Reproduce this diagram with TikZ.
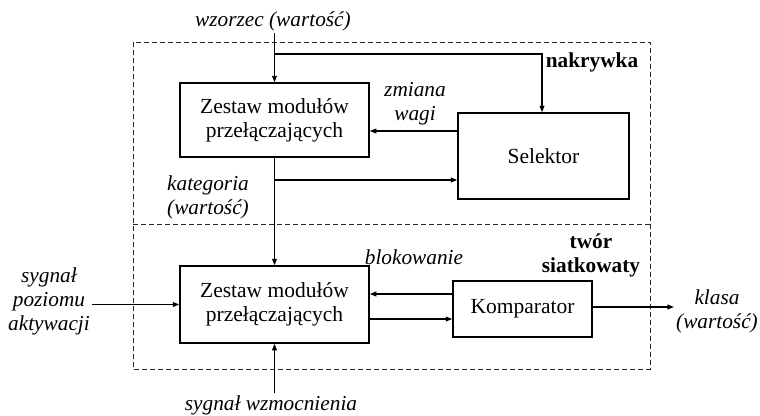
\documentclass[tikz,border=0pt]{standalone}
\usepackage{fontspec}
\setmainfont{Liberation Serif}
\usetikzlibrary{arrows.meta}
\begin{document}
\begin{tikzpicture}[x=1pt,y=-1pt,
  font=\fontsize{21.5}{24}\selectfont,
  block/.style={draw,line width=1.5pt,minimum width=#1,inner sep=0pt,align=center},
  lbl/.style={font=\fontsize{21.3}{24}\selectfont\itshape,align=center,inner sep=2pt},
  tag/.style={font=\fontsize{21.3}{24}\selectfont\bfseries,align=center,inner sep=1pt},
  frame/.style={line width=0.9pt,dash pattern=on 5pt off 3pt,draw=black!85},
  arr/.style={line width=1.25pt,-{Triangle[length=6.5pt,width=4.8pt]}},
  ln/.style={line width=1.25pt}]
\useasboundingbox (0,0) rectangle (760,415);

% dashed frames: upper part and lower part
\draw[frame] (133,42) rectangle (650,369);
\draw[frame] (133,224) -- (650,224);

% blocks
\node[block=189pt,minimum height=74pt] (box1) at (274.5,120) {Zestaw modułów\\przełączających};
\node[block=171pt,minimum height=86pt] (sel) at (543.5,156) {Selektor};
\node[block=189pt,minimum height=77pt] (box2) at (274.5,304.5) {Zestaw modułów\\przełączających};
\node[block=139pt,minimum height=56pt] (komp) at (522.5,309) {Komparator};

% labels
\node[lbl] (wz) at (273,21) {wzorzec (wartość)};
\node[tag] (nak) at (592,62) {nakrywka};
\node[lbl] (zw) at (415,104) {zmiana\\wagi};
\node[lbl] (kat) at (208,197) {kategoria\\(wartość)};
\node[lbl] (sp) at (49,301) {sygnał\\poziomu\\aktywacji};
\node[lbl] (sw) at (271,405) {sygnał wzmocnienia};
\node[lbl] (blk) at (414,257) {blokowanie};
\node[tag] (tw) at (591,255) {twór\\siatkowaty};
\node[lbl] (kl) at (717,311) {klasa\\(wartość)};

% connectors
\coordinate (j1) at (box1.north |- 0,54);
\coordinate (j2) at (box1.south |- 0,180);
\draw[arr] (wz.south -| box1.north) -- (box1.north);
\draw[arr] (j1) -| ([xshift=-1.5pt]sel.north);
\draw[arr] ([yshift=25pt]sel.west) -- ([yshift=25pt]sel.west -| box1.east);
\draw[arr] (box1.south) -- (box2.north);
\draw[arr] (j2) -- (j2 -| sel.west);
\draw[arr] (sp.east |- box2.west) -- (box2.west);
\draw[arr] (sw.north -| box2.south) -- (box2.south);
\draw[arr] ([yshift=15pt]komp.west) -- ([yshift=15pt]komp.west -| box2.east);
\draw[arr] ([yshift=-10pt]komp.west -| box2.east) -- ([yshift=-10pt]komp.west);
\draw[arr] ([yshift=2pt]komp.east) -- ([yshift=2pt]komp.east -| kl.west);
\end{tikzpicture}
\end{document}
